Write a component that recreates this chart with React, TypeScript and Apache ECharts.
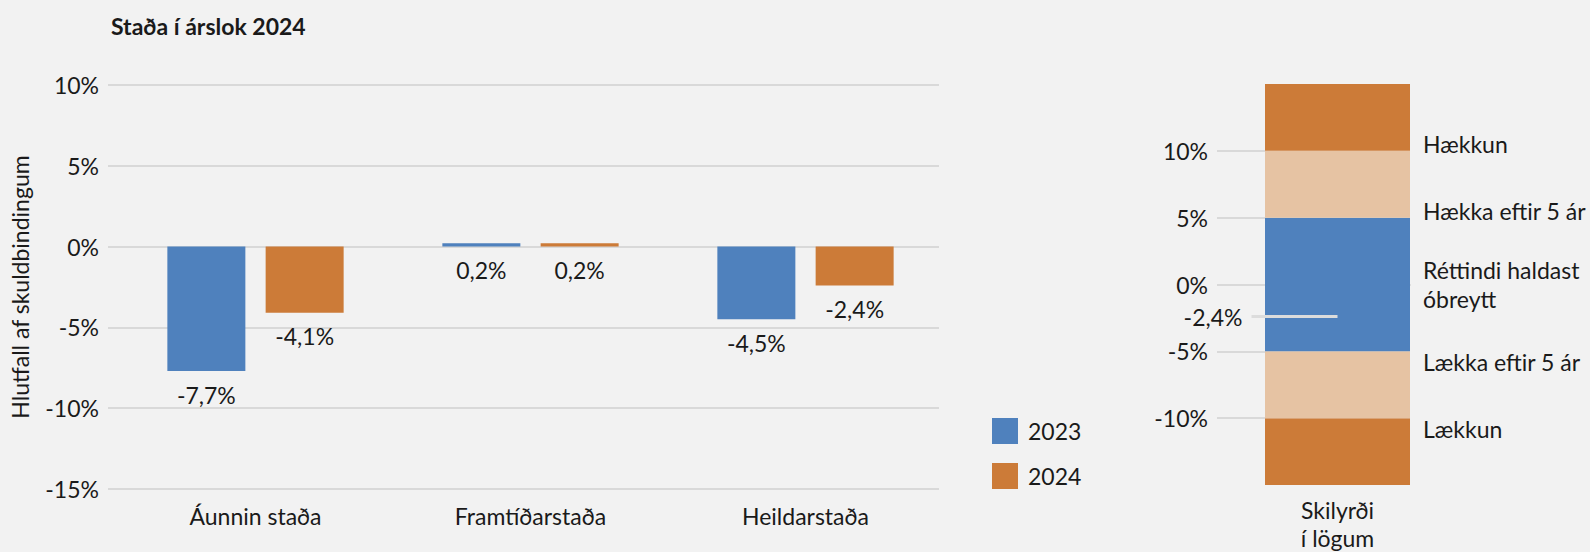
import React, { useEffect, useRef } from 'react';
import * as echarts from 'echarts';

const titleText = 'Staða í árslok 2024';
const yAxisName = 'Hlutfall af skuldbindingum';
const categories = ['Áunnin staða', 'Framtíðarstaða', 'Heildarstaða'];
const seriesNames = ['2023', '2024'];
const values2023 = [-7.7, 0.2, -4.5];
const values2024 = [-4.1, 0.2, -2.4];
const leftAxisMin = -15;
const leftAxisMax = 10;
const axisStep = 5;

const conditionCategory = 'Skilyrði\ní lögum';
const bandBounds = [-15, -10, -5, 5, 10, 15];
const bandColorKeys = ['strong', 'light', 'mid', 'light', 'strong'];
const conditionTicks = [-10, -5, 0, 5, 10];
const conditionTickNames = ['Lækkun', 'Lækka eftir 5 ár', 'Réttindi haldast\nóbreytt', 'Hækka eftir 5 ár', 'Hækkun'];
const markerValue = values2024[2];

const BLUE = '#4F81BD';
const ORANGE = '#CC7B38';
const PEACH = '#E6C3A3';
const GRID = '#D9D9D9';
const TEXT = '#1A1A1A';
const FONT = 'Lato';
const FS = 23;
const colorMap: Record<string, string> = { strong: ORANGE, light: PEACH, mid: BLUE };

const fmt = (v: number) => v.toFixed(1).replace('.', ',') + '%';

export default function App() {
  const ref = useRef<HTMLDivElement>(null);
  useEffect(() => {
    if (!ref.current) return;
    const chart = echarts.init(ref.current, undefined, { renderer: 'svg' });

    const bandSeries: any[] = [
      {
        type: 'bar',
        xAxisIndex: 2,
        yAxisIndex: 2,
        stack: 'cond',
        stackStrategy: 'all',
        barWidth: '100%',
        data: [bandBounds[0]],
        itemStyle: { color: 'rgba(0,0,0,0)' },
        silent: true,
      },
    ];
    for (let i = 0; i < bandBounds.length - 1; i++) {
      bandSeries.push({
        type: 'bar',
        xAxisIndex: 2,
        yAxisIndex: 2,
        stack: 'cond',
        stackStrategy: 'all',
        barWidth: '100%',
        data: [bandBounds[i + 1] - bandBounds[i]],
        itemStyle: { color: colorMap[bandColorKeys[i]] },
        silent: true,
      });
    }

    const nameFor = (v: number) => {
      const idx = conditionTicks.indexOf(v);
      if (idx < 0) return '';
      const n = conditionTickNames[idx];
      if (v > 0) return '{up|' + n + '}';
      if (v < 0) return '{down|' + n + '}';
      return n.split('\n').map((s) => '{mid|' + s + '}').join('\n');
    };

    chart.setOption({
      animation: false,
      backgroundColor: '#F2F2F2',
      textStyle: { fontFamily: FONT, color: TEXT },
      title: {
        text: titleText,
        left: 106,
        top: 9,
        textStyle: { fontFamily: FONT, fontSize: FS, fontWeight: 'bold', color: TEXT },
      },
      legend: {
        orient: 'vertical',
        left: 992,
        top: 418,
        padding: 0,
        itemWidth: 26,
        itemHeight: 26,
        itemGap: 19,
        icon: 'rect',
        data: seriesNames,
        textStyle: { fontFamily: FONT, fontSize: FS, color: TEXT, padding: [0, 0, 0, 5] },
      },
      grid: [
        { left: 108, right: 651, top: 85, bottom: 63 },
        { left: 118, right: 647, top: 85, bottom: 63 },
        { left: 1265, right: 180, top: 84, bottom: 63 },
      ],
      xAxis: [
        { gridIndex: 0, type: 'value', min: 0, max: 1, show: false },
        {
          gridIndex: 1,
          type: 'category',
          data: categories,
          axisLine: { show: false },
          axisTick: { show: false },
          axisLabel: { fontFamily: FONT, fontSize: FS, color: TEXT, margin: 15 },
        },
        {
          gridIndex: 2,
          type: 'category',
          data: [conditionCategory],
          axisLine: { show: true, lineStyle: { color: GRID, width: 2 } },
          axisTick: { show: false },
          axisLabel: { fontFamily: FONT, fontSize: FS, color: TEXT, margin: 11, lineHeight: 28 },
        },
      ],
      yAxis: [
        {
          gridIndex: 0,
          type: 'value',
          min: leftAxisMin,
          max: leftAxisMax,
          interval: axisStep,
          axisLine: { show: false },
          axisTick: { show: false },
          splitLine: { show: true, lineStyle: { color: GRID, width: 2 } },
          axisLabel: { fontFamily: FONT, fontSize: FS, color: TEXT, margin: 9, formatter: (v: number) => v + '%' },
          name: yAxisName,
          nameLocation: 'middle',
          nameGap: 77,
          nameTextStyle: { fontFamily: FONT, fontSize: FS, color: TEXT },
        },
        {
          gridIndex: 1,
          type: 'value',
          min: leftAxisMin,
          max: leftAxisMax,
          interval: axisStep,
          show: false,
          splitLine: { show: false },
        },
        {
          gridIndex: 2,
          type: 'value',
          position: 'left',
          min: bandBounds[0],
          max: bandBounds[bandBounds.length - 1],
          interval: axisStep,
          axisLine: { show: false },
          splitLine: { show: false },
          axisTick: { show: true, length: 48, customValues: conditionTicks, lineStyle: { color: GRID, width: 2 } },
          axisLabel: {
            fontFamily: FONT,
            fontSize: FS,
            color: TEXT,
            margin: 57,
            customValues: conditionTicks,
            formatter: (v: number) => v + '%',
          },
        },
        {
          gridIndex: 2,
          type: 'value',
          position: 'right',
          min: bandBounds[0],
          max: bandBounds[bandBounds.length - 1],
          interval: axisStep,
          axisLine: { show: false },
          splitLine: { show: false },
          axisTick: { show: false },
          axisLabel: {
            fontFamily: FONT,
            fontSize: FS,
            color: TEXT,
            margin: 13,
            customValues: conditionTicks,
            formatter: nameFor,
            rich: {
              up: { fontFamily: FONT, fontSize: FS, color: TEXT, padding: [0, 0, 14, 0] },
              down: { fontFamily: FONT, fontSize: FS, color: TEXT, padding: [22, 0, 0, 0] },
              mid: { fontFamily: FONT, fontSize: FS, color: TEXT, lineHeight: 29 },
            },
          },
        },
      ],
      series: [
        {
          name: seriesNames[0],
          type: 'bar',
          xAxisIndex: 1,
          yAxisIndex: 1,
          data: values2023,
          barWidth: 78,
          barGap: '26%',
          itemStyle: { color: BLUE },
          label: { show: true, position: 'bottom', distance: 12, fontFamily: FONT, fontSize: FS, color: TEXT, formatter: (p: any) => fmt(p.value) },
        },
        {
          name: seriesNames[1],
          type: 'bar',
          xAxisIndex: 1,
          yAxisIndex: 1,
          data: values2024,
          barWidth: 78,
          barGap: '26%',
          itemStyle: { color: ORANGE },
          label: { show: true, position: 'bottom', distance: 12, fontFamily: FONT, fontSize: FS, color: TEXT, formatter: (p: any) => fmt(p.value) },
        },
        ...bandSeries,
        {
          type: 'scatter',
          xAxisIndex: 2,
          yAxisIndex: 2,
          data: [[0, markerValue]],
          symbol: 'rect',
          symbolSize: [86, 3],
          symbolOffset: [-43, 0],
          itemStyle: { color: '#DCDCDC', opacity: 1 },
          z: 10,
          silent: true,
          label: { show: true, position: 'left', distance: 9, fontFamily: FONT, fontSize: FS, color: TEXT, opacity: 1, formatter: (p: any) => fmt(p.value[1]) },
        },
      ],
    });
    return () => chart.dispose();
  }, []);
  return <div ref={ref} style={{ position: 'absolute', left: 0, top: 0, width: 1590, height: 552 }} />;
}
